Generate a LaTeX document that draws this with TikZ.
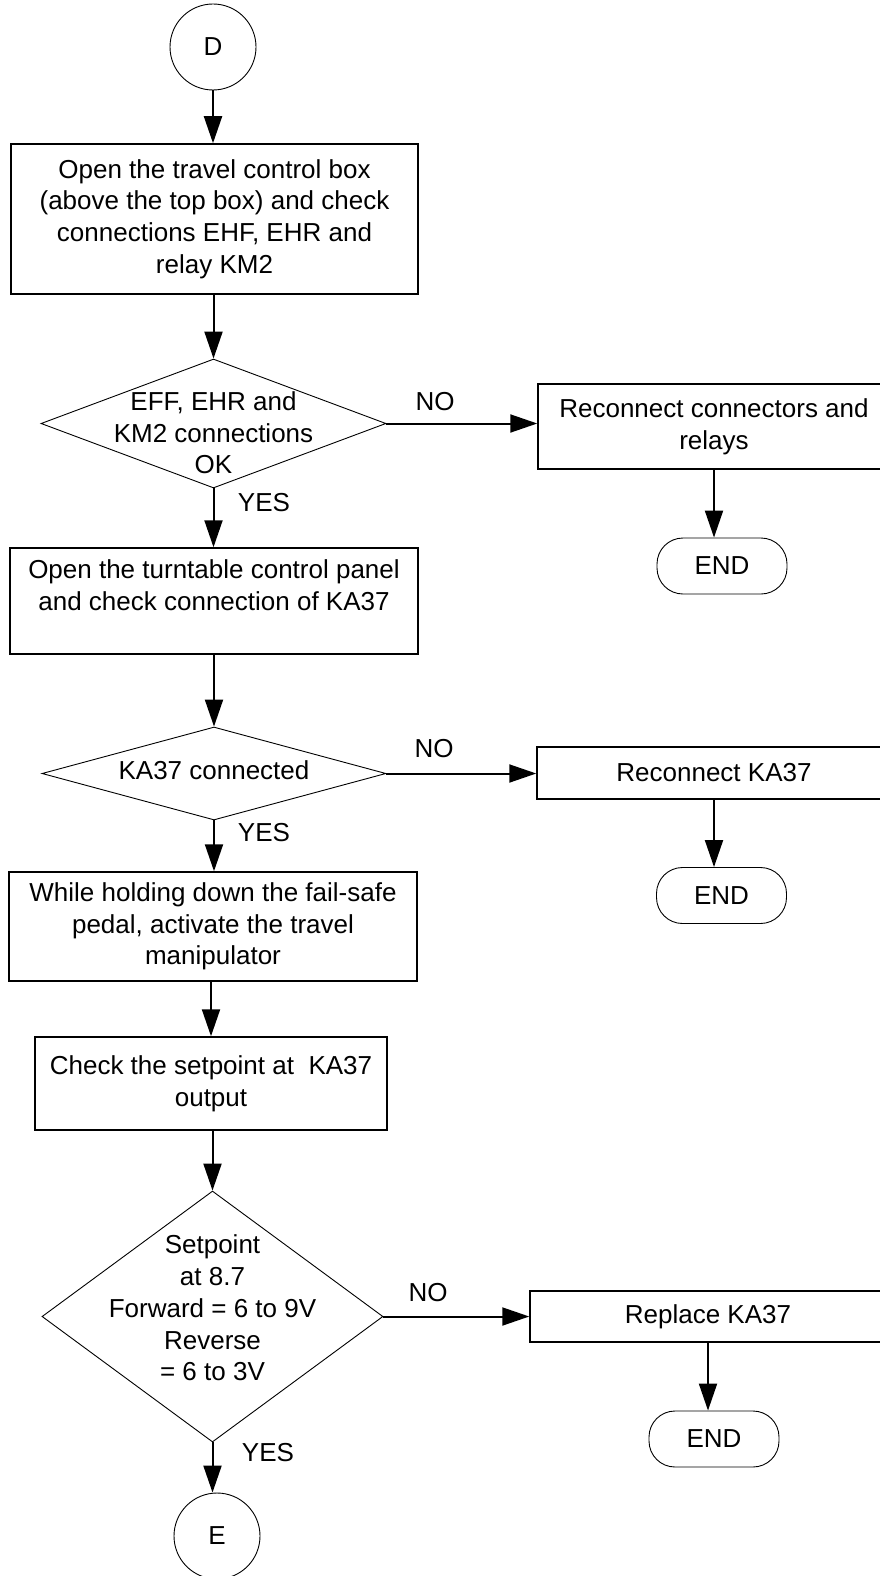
\documentclass[tikz,border=0pt]{standalone}
\usepackage{fontspec}
\setmainfont{Liberation Sans}
\usetikzlibrary{shapes.geometric,arrows.meta}

\begin{document}
\begin{tikzpicture}[x=1pt, y=-1pt,
	every node/.style={font=\fontsize{26}{31.7}\selectfont, inner sep=0pt},
	stepbox/.style={draw, line width=1.5pt, align=center},
	decision/.style={draw, diamond, line width=0.9pt},
	connector/.style={draw, circle, line width=0.9pt, minimum size=86pt},
	terminal/.style={draw, rounded corners=26pt, line width=0.9pt, minimum width=130pt, minimum height=56pt},
	flow/.style={line width=2pt, -{Triangle[length=27pt, width=18pt]}}]
	\useasboundingbox (0,0) rectangle (880,1576);
	
	% main column
	\node[connector] (D) at (213,47) {D};
	\node[stepbox, minimum width=407pt, minimum height=150pt] (b1) at (214.5,219)
	{Open the travel control box\\(above the top box) and check\\connections EHF, EHR and\\relay KM2};
	\node[decision, minimum width=345pt, minimum height=129pt] (d1) at (213.5,423.5) {};
	\node[align=center] (d1t) at (213.5,433) {EFF, EHR and\\KM2 connections\\OK};
	\node[stepbox, minimum width=408pt, minimum height=106pt] (b2) at (214,601)
	{Open the turntable control panel\\and check connection of KA37\\\mbox{}};
	\node[decision, minimum width=344pt, minimum height=93pt] (d2) at (214,773.5) {};
	\node (d2t) at (214,770) {KA37 connected};
	\node[stepbox, minimum width=408pt, minimum height=109pt] (b3) at (213,926.5)
	{While holding down the fail-safe\\pedal, activate the travel\\manipulator};
	\node[stepbox, minimum width=352pt, minimum height=93pt] (b4) at (211,1083.5)
	{Check the setpoint at\ \ KA37\\output};
	\node[decision, minimum width=341pt, minimum height=251pt] (d3) at (212.5,1316.5) {};
	\node[align=center] (d3t) at (212.5,1308) {Setpoint\\at 8.7\\Forward = 6 to 9V\\Reverse\\= 6 to 3V};
	\node[connector] (E) at (217,1536) {E};
	
	% right column
	\node[stepbox, minimum width=352pt, minimum height=85pt] (r1) at (714,426.5)
	{Reconnect connectors and\\relays};
	\node[terminal] (e1) at (722,566) {END};
	\node[stepbox, minimum width=354pt, minimum height=52pt] (r2) at (714,773) {Reconnect KA37};
	\node[terminal] (e2) at (721.5,895.5) {END};
	\node[stepbox, minimum width=356pt, minimum height=51pt] (r3) at (708,1316.5) {Replace KA37};
	\node[terminal] (e3) at (714,1439) {END};
	
	\draw[flow] (D.south) -- (D.south |- b1.north);
	\draw[flow] (d1.north |- b1.south) -- (d1.north);
	\draw[flow] (d1.east) -- (d1.east -| r1.west);
	\draw[flow] (d1.south) -- (d1.south |- b2.north);
	\draw[flow] (r1.south) -- (r1.south |- e1.north);
	\draw[flow] (d2.north |- b2.south) -- (d2.north);
	\draw[flow] (d2.east) -- (d2.east -| r2.west);
	\draw[flow] (d2.south) -- (d2.south |- b3.north);
	\draw[flow] (r2.south) -- (r2.south |- e2.north);
	\draw[flow] (b4.north |- b3.south) -- (b4.north);
	\draw[flow] (d3.north |- b4.south) -- (d3.north);
	\draw[flow] (d3.east) -- (d3.east -| r3.west);
	\draw[flow] (d3.south) -- (d3.south |- E.north);
	\draw[flow] (r3.south) -- (r3.south |- e3.north);
	
	% branch labels
	\node (no1) at (435,402) {NO};
	\node (yes1) at (264,503) {YES};
	\node (no2) at (434,749) {NO};
	\node (yes2) at (264,833) {YES};
	\node (no3) at (428,1293) {NO};
	\node (yes3) at (268,1453) {YES};
\end{tikzpicture}
\end{document}
